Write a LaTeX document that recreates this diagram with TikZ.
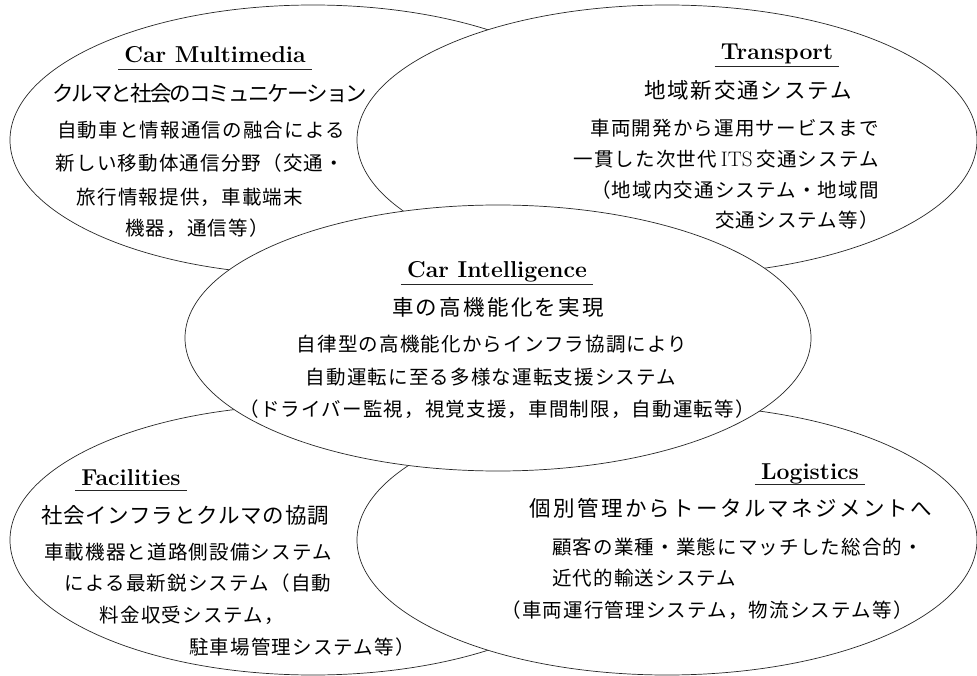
\documentclass[tikz,border=0pt]{standalone}
\usepackage{fontspec}
\newfontfamily\jp{Noto Sans CJK JP}
\usetikzlibrary{shapes.geometric}
\tikzset{
  ell/.style={ellipse, draw=black!85, line width=0.7pt, fill=white, inner sep=0pt},
  ttl/.style={font=\fontsize{23}{25}\selectfont\bfseries, inner sep=0pt, anchor=base},
  jh/.style={font={\jp\fontsize{21.5}{24}\selectfont\addfontfeature{LetterSpace=#1}}, inner sep=0pt},
  jb/.style={font={\jp\fontsize{19.5}{22}\selectfont\addfontfeature{LetterSpace=6}}, inner sep=0pt},
  uline/.style={draw=black!85, line width=0.7pt}
}
\begin{document}
\begin{tikzpicture}[x=1pt,y=-1pt]
\useasboundingbox (0,0) rectangle (977,676);
% ellipses
\node[ell, minimum width=606pt, minimum height=270pt] (cm) at (313,140) {};
\node[ell, minimum width=620pt, minimum height=270pt] (tr) at (667,140) {};
\node[ell, minimum width=606pt, minimum height=270pt] (fa) at (313,540) {};
\node[ell, minimum width=620pt, minimum height=270pt] (lo) at (667,540) {};
\node[ell, minimum width=626pt, minimum height=266pt] (ci) at (498,338) {};
% Car Multimedia
\node[ttl] (cmt) at (215,63) {Car Multimedia};
\draw[uline] ([xshift=-6pt,yshift=-6pt]cmt.base west) -- ([xshift=6pt,yshift=-6pt]cmt.base east);
\node[jh=-8.8] (cmh) at (210,93) {クルマと社会のコミュニケーション};
\node[jb] (cmb1) at (201,130) {自動車と情報通信の融合による};
\node[jb] (cmb2) at (200,163) {新しい移動体通信分野（交通・};
\node[jb] (cmb3) at (190,197) {旅行情報提供，車載端末};
\node[jb] (cmb4) at (197,228) {機器，通信等）};
% Transport
\node[ttl] (trt) at (777,60) {Transport};
\draw[uline] ([xshift=-6pt,yshift=-6pt]trt.base west) -- ([xshift=6pt,yshift=-6pt]trt.base east);
\node[jh=8.4] (trh) at (748,90) {地域新交通システム};
\node[jb, anchor=east] (trb1) at (879,128) {車両開発から運用サービスまで};
\node[jb, anchor=east] (trb2) at (879,159) {一貫した次世代\hspace{4pt}{\rmfamily\fontsize{21}{22}\selectfont ITS}\hspace{4pt}交通システム};
\node[jb, anchor=east] (trb3) at (879,190) {（地域内交通システム・地域間};
\node[jb, anchor=east] (trb4) at (879,220) {交通システム等）};
% Car Intelligence
\node[ttl] (cit) at (497,278) {Car Intelligence};
\draw[uline] ([xshift=-6pt,yshift=-6pt]cit.base west) -- ([xshift=6pt,yshift=-6pt]cit.base east);
\node[jh=10.7] (cih) at (498,307) {車の高機能化を実現};
\node[jb] (cib1) at (492,344) {自律型の高機能化からインフラ協調により};
\node[jb] (cib2) at (491,377) {自動運転に至る多様な運転支援システム};
\node[jb] (cib3) at (497,409) {（ドライバー監視，視覚支援，車間制限，自動運転等）};
% Facilities
\node[ttl] (fat) at (131,485) {Facilities};
\draw[uline] ([xshift=-6pt,yshift=-5pt]fat.base west) -- ([xshift=6pt,yshift=-5pt]fat.base east);
\node[jh=3.7] (fah) at (185,515) {社会インフラとクルマの協調};
\node[jb] (fab1) at (188,552) {車載機器と道路側設備システム};
\node[jb] (fab2) at (198,583) {による最新鋭システム（自動};
\node[jb] (fab3) at (192,615) {料金収受システム，};
\node[jb] (fab4) at (302,647) {駐車場管理システム等）};
% Logistics
\node[ttl] (lot) at (810,479) {Logistics};
\draw[uline] ([xshift=-6pt,yshift=-5pt]lot.base west) -- ([xshift=6pt,yshift=-5pt]lot.base east);
\node[jh=10.7] (loh) at (731,508) {個別管理からトータルマネジメントへ};
\node[jb, anchor=west] (lob1) at (552,547) {顧客の業種・業態にマッチした総合的・};
\node[jb, anchor=west] (lob2) at (552,578) {近代的輸送システム};
\node[jb] (lob3) at (707,610) {（車両運行管理システム，物流システム等）};
\end{tikzpicture}
\end{document}
